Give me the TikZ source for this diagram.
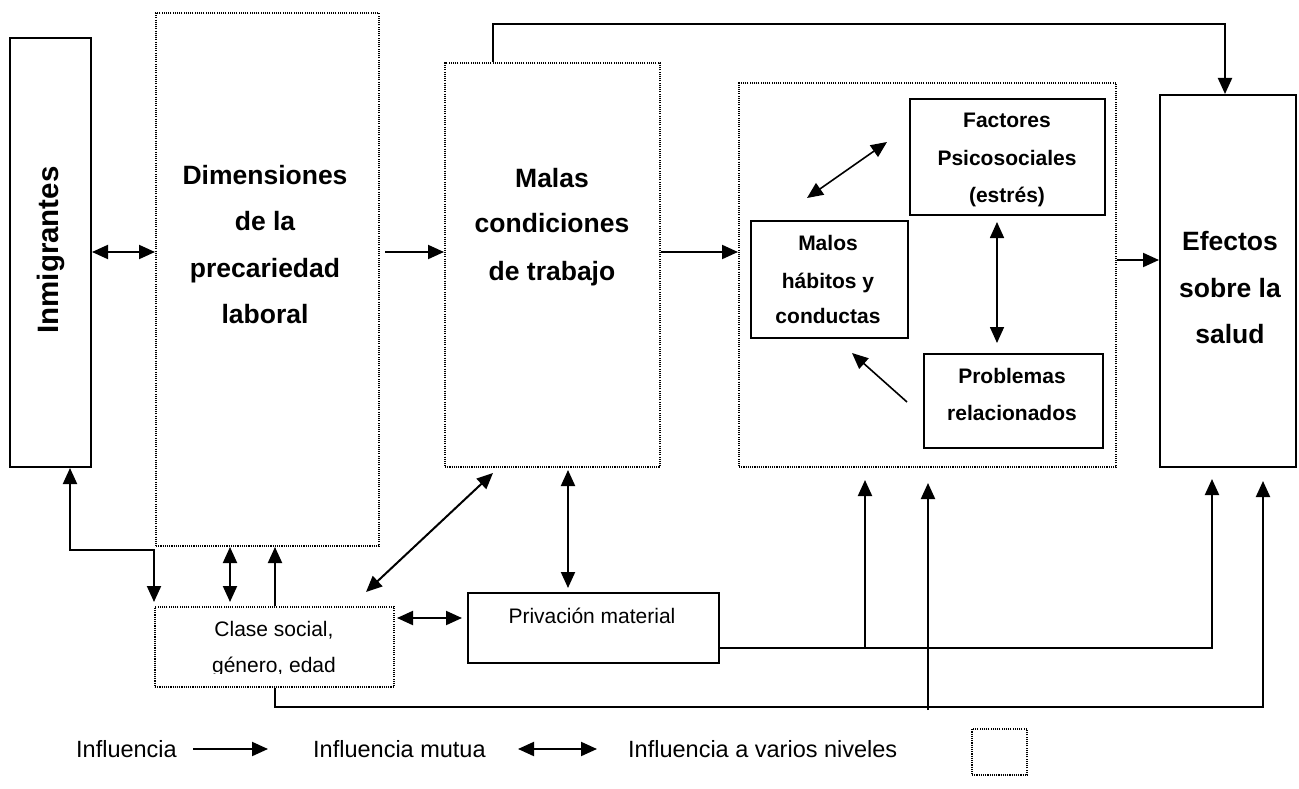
\documentclass[tikz,border=0pt]{standalone}
\usepackage{fontspec}
\setmainfont{Liberation Sans}
\usetikzlibrary{arrows.meta}
\begin{document}
\begin{tikzpicture}[x=1pt,y=-1pt,
  solidbox/.style={draw, line width=2pt, inner sep=0pt, anchor=north west},
  dotbox/.style={draw, line width=2pt, dash pattern=on 1.1pt off 1.1pt, inner sep=0pt, anchor=north west},
  tipa/.tip={Triangle[length=16pt,width=14pt]},
  conn/.style={line width=2pt, -tipa},
  dconn/.style={line width=2pt, tipa-tipa},
  bigtxt/.style={font=\fontsize{26.5}{30}\selectfont\bfseries, inner sep=0pt, anchor=base},
  midtxt/.style={font=\fontsize{21}{25}\selectfont\bfseries, inner sep=0pt, anchor=base},
  regtxt/.style={font=\fontsize{21}{25}\selectfont, inner sep=0pt, anchor=base},
  legtxt/.style={font=\fontsize{23.5}{28}\selectfont, inner sep=0pt, anchor=base west},
]
\useasboundingbox (0,0) rectangle (1299,789);

% boxes
\node[solidbox, minimum width=81pt, minimum height=429pt] (imm) at (9,37) {};
\node[dotbox, minimum width=223pt, minimum height=533pt] (dim) at (155,12) {};
\node[dotbox, minimum width=215pt, minimum height=404pt] (malas) at (444,62) {};
\node[dotbox, minimum width=377pt, minimum height=384pt] (grp) at (738,82) {};
\node[solidbox, minimum width=195pt, minimum height=116pt] (fac) at (909,98) {};
\node[solidbox, minimum width=157pt, minimum height=117pt] (mal) at (750,220) {};
\node[solidbox, minimum width=179pt, minimum height=94pt] (prob) at (923,353) {};
\node[solidbox, minimum width=136pt, minimum height=372pt] (efe) at (1159,94) {};
\node[dotbox, minimum width=239pt, minimum height=80pt] (clase) at (154,606) {};
\node[solidbox, minimum width=251pt, minimum height=70pt] (priv) at (467,592) {};

% texts
\node[bigtxt, rotate=90, font=\fontsize{29.5}{32}\selectfont\bfseries] (timm) at (58,250) {Inmigrantes};
\node[bigtxt] (tdim1) at (265,185) {Dimensiones};
\node[bigtxt] (tdim2) at (265,230) {de la};
\node[bigtxt] (tdim3) at (265,277) {precariedad};
\node[bigtxt] (tdim4) at (265,323) {laboral};
\node[bigtxt] (tmal1) at (552,188) {Malas};
\node[bigtxt] (tmal2) at (552,233) {condiciones};
\node[bigtxt] (tmal3) at (552,280) {de trabajo};
\node[midtxt] (tfac1) at (1007,128) {Factores};
\node[midtxt] (tfac2) at (1007,166) {Psicosociales};
\node[midtxt] (tfac3) at (1007,202) {(estrés)};
\node[midtxt] (thab1) at (828,250) {Malos};
\node[midtxt] (thab2) at (828,288) {hábitos y};
\node[midtxt] (thab3) at (828,323) {conductas};
\node[midtxt] (tpro1) at (1012,383) {Problemas};
\node[midtxt] (tpro2) at (1012,420) {relacionados};
\node[bigtxt] (tefe1) at (1230,250) {Efectos};
\node[bigtxt] (tefe2) at (1230,297) {sobre la};
\node[bigtxt] (tefe3) at (1230,343) {salud};
\node[regtxt] (tcla1) at (274,636) {Clase social,};
\begin{scope}
\clip (154,640) rectangle (393,673.5);
\node[regtxt] (tcla2) at (274,672) {género, edad};
\end{scope}
\node[regtxt] (tpriv) at (592,623) {Privación material};

% connectors (upper row)
\draw[dconn] (imm.east |- 0,252) -- (dim.west |- 0,252);
\draw[conn, shorten <=5pt] (dim.east |- 0,252) -- (malas.west |- 0,252);
\draw[conn] (malas.east |- 0,252) -- (grp.west |- 0,252);
\draw[conn] (grp.east |- 0,260) -- (efe.west |- 0,260);
\draw[conn] (malas.north -| 493,0) |- (1225,24) -- (efe.north -| 1225,0);

% inner group
\coordinate (fm1) at (807,198);
\coordinate (fm2) at (887,142);
\draw[dconn, line width=1.6pt] (fm1) -- (fm2);
\draw[dconn, line width=1.6pt, shorten <=6pt, shorten >=10pt] (fac.south -| 997,0) -- (prob.north -| 997,0);
\coordinate (pm1) at (907,402);
\coordinate (pm2) at (852,353);
\draw[conn, line width=1.6pt] (pm1) -- (pm2);

% lower part
\draw[dconn, shorten >=4pt] (imm.south -| 70,0) |- (154,550) -- (clase.north -| 154,0);
\draw[dconn, shorten >=4pt] (dim.south -| 230,0) -- (clase.north -| 230,0);
\draw[conn] (clase.north -| 275,0) -- (dim.south -| 275,0);
\coordinate (cm1) at (366,592);
\coordinate (cm2) at (493,473);
\draw[dconn] (cm1) -- (cm2);
\draw[dconn, shorten <=2pt, shorten >=4pt] (malas.south -| 568,0) -- (priv.north -| 568,0);
\draw[dconn, shorten <=2pt, shorten >=5pt] (clase.east |- 0,618) -- (priv.west |- 0,618);
\draw[conn, shorten >=11pt] (priv.east |- 0,648) -| (efe.south -| 1212,0);
\coordinate (j1) at (865,648);
\draw[conn, shorten >=12pt] (j1) -- (grp.south -| 865,0);
\draw[conn, shorten >=13pt] (clase.south -| 275,0) |- (1263,707) -- (efe.south -| 1263,0);
\coordinate (j2) at (928,710);
\draw[conn, shorten >=15pt] (j2) -- (grp.south -| 928,0);

% legend
\node[legtxt] (l1) at (76,757) {Influencia};
\coordinate (la1) at (193,749);
\coordinate (la2) at (268,749);
\draw[conn] (la1) -- (la2);
\node[legtxt] (l2) at (313,757) {Influencia mutua};
\coordinate (lb1) at (518,749);
\coordinate (lb2) at (597,749);
\draw[dconn] (lb1) -- (lb2);
\node[legtxt] (l3) at (628,757) {Influencia a varios niveles};
\node[dotbox, minimum width=55pt, minimum height=46pt] (lbox) at (971,728) {};
\end{tikzpicture}
\end{document}
